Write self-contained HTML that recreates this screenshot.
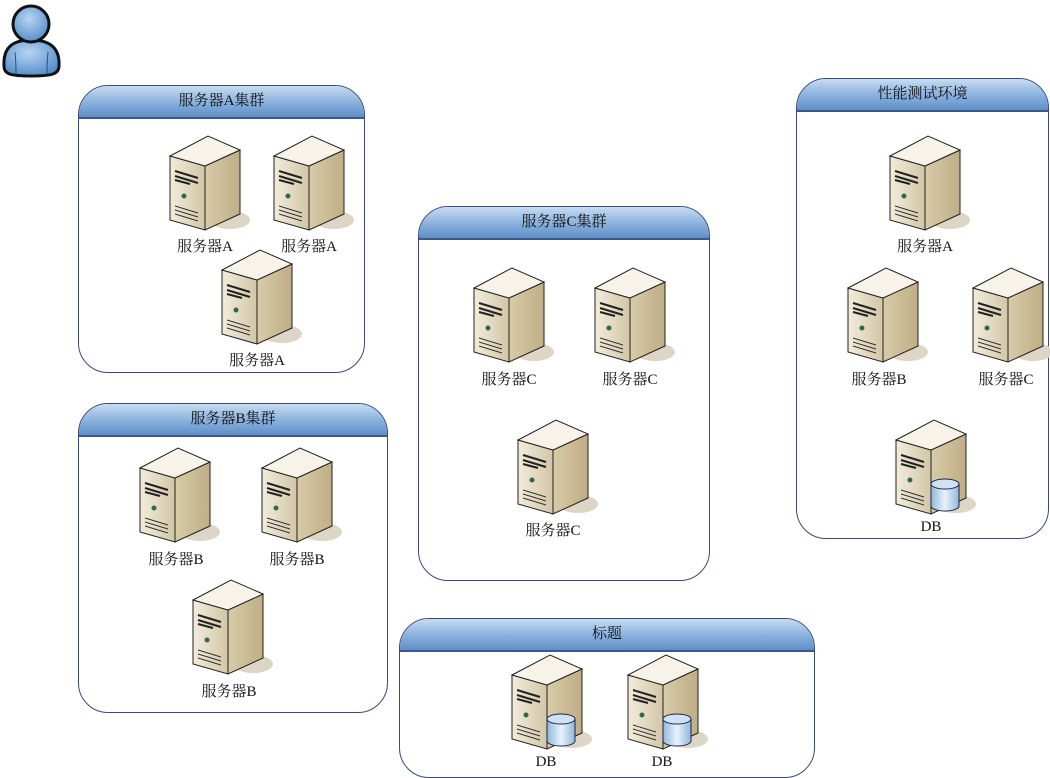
<!DOCTYPE html>
<html><head><meta charset="utf-8"><style>
body{margin:0;background:#fff;width:1050px;height:778px;overflow:hidden;position:relative;font-family:"Liberation Serif","Noto Serif CJK SC",serif}
.box{position:absolute;border:1px solid #3b4a7a;border-radius:30px;overflow:hidden;background:#fff}
.hd{height:31px;background:linear-gradient(#c7dcf2,#8db3de 50%,#5f8fc8);border-bottom:2px solid #3b5a8a;text-align:center;font-size:15px;line-height:31px;color:#111}
.lb{position:absolute;font-size:15px;color:#111;transform:translateX(-50%);white-space:nowrap}
svg{position:absolute;left:0;top:0}
</style></head><body>
<svg width="1050" height="778">
<defs>
<linearGradient id="fr" x1="0" x2="1"><stop offset="0" stop-color="#f2ecdb"/><stop offset="1" stop-color="#d2c6a6"/></linearGradient>
<linearGradient id="sd" x1="0" x2="1"><stop offset="0" stop-color="#d8cba8"/><stop offset="1" stop-color="#bfae86"/></linearGradient>
<linearGradient id="db" x1="0" x2="1"><stop offset="0" stop-color="#8fb7dd"/><stop offset=".5" stop-color="#e8f2fb"/><stop offset="1" stop-color="#8fb7dd"/></linearGradient>
<radialGradient id="pp" cx=".45" cy=".35" r=".7"><stop offset="0" stop-color="#b8d4f2"/><stop offset="1" stop-color="#4f8ac8"/></radialGradient>
<g id="srv">
<ellipse cx="60" cy="84" rx="20" ry="9" fill="#ddd6c6"/>
<polygon points="0,20 35,30 35,94 0,84" fill="url(#fr)" stroke="#222" stroke-width="1"/>
<polygon points="35,30 70,14 70,78 35,94" fill="url(#sd)" stroke="#222" stroke-width="1"/>
<polygon points="0,20 38,0 70,14 35,30" fill="#f7f3e8" stroke="#222" stroke-width="1"/>
<path d="M5,35 L28,42 M5,40 L28,47 M5,44 L20,48" stroke="#222" stroke-width="2"/>
<circle cx="14" cy="60" r="2.5" fill="#2e6a4a"/>
<path d="M5,70 L28,77 M5,74 L28,81 M5,78 L28,85" stroke="#333" stroke-width="1"/>
</g>
<g id="dbs"><use href="#srv"/>
<path d="M35,64 v22 a14,5 0 0 0 28,0 v-22" fill="url(#db)" stroke="#224" stroke-width="1"/>
<ellipse cx="49" cy="64" rx="14" ry="5" fill="#cfe2f4" stroke="#224" stroke-width="1"/></g>
</defs>
<path d="M4,66 C3,48 12,40 31,40 C50,40 60,48 59,66 C59,74 52,76 31,76 C10,76 4,74 4,66 Z" fill="url(#pp)" stroke="#111" stroke-width="3"/>
<path d="M15,52 C16,62 16,68 16,74 M48,52 C47,62 47,68 47,74" stroke="#2c4f80" stroke-width="1" fill="none"/>
<circle cx="31" cy="24" r="18" fill="url(#pp)" stroke="#111" stroke-width="3"/>
</svg>
<div class="box" style="left:78px;top:85px;width:285px;height:286px"><div class="hd">服务器A集群</div></div>
<div class="box" style="left:78px;top:403px;width:308px;height:308px"><div class="hd">服务器B集群</div></div>
<div class="box" style="left:418px;top:206px;width:290px;height:373px"><div class="hd">服务器C集群</div></div>
<div class="box" style="left:796px;top:78px;width:251px;height:459px"><div class="hd">性能测试环境</div></div>
<div class="box" style="left:399px;top:618px;width:414px;height:158px"><div class="hd">标题</div></div>
<svg width="1050" height="778">
<use href="#srv" x="170" y="136"/><use href="#srv" x="274" y="136"/><use href="#srv" x="222" y="250"/>
<use href="#srv" x="140" y="448"/><use href="#srv" x="262" y="448"/><use href="#srv" x="193" y="580"/>
<use href="#srv" x="474" y="268"/><use href="#srv" x="595" y="268"/><use href="#srv" x="518" y="420"/>
<use href="#srv" x="890" y="136"/><use href="#srv" x="848" y="268"/><use href="#srv" x="973" y="268"/>
<use href="#dbs" x="896" y="420"/><use href="#dbs" x="512" y="655"/><use href="#dbs" x="628" y="655"/>
</svg>
<div class="lb" style="left:205px;top:235px">服务器A</div>
<div class="lb" style="left:309px;top:235px">服务器A</div>
<div class="lb" style="left:257px;top:349px">服务器A</div>
<div class="lb" style="left:176px;top:548px">服务器B</div>
<div class="lb" style="left:297px;top:548px">服务器B</div>
<div class="lb" style="left:229px;top:680px">服务器B</div>
<div class="lb" style="left:509px;top:368px">服务器C</div>
<div class="lb" style="left:630px;top:368px">服务器C</div>
<div class="lb" style="left:553px;top:519px">服务器C</div>
<div class="lb" style="left:925px;top:235px">服务器A</div>
<div class="lb" style="left:879px;top:368px">服务器B</div>
<div class="lb" style="left:1006px;top:368px">服务器C</div>
<div class="lb" style="left:931px;top:519px">DB</div>
<div class="lb" style="left:546px;top:754px">DB</div>
<div class="lb" style="left:662px;top:754px">DB</div>
</body></html>
